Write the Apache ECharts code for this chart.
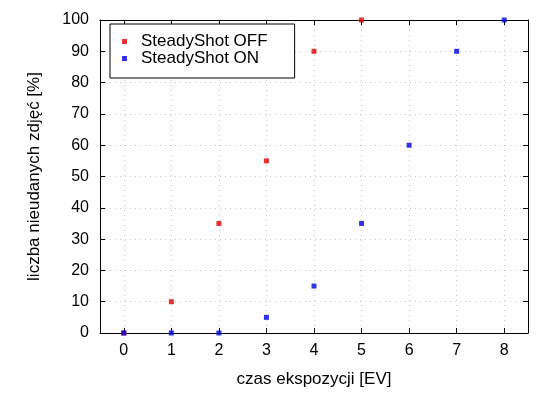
<!DOCTYPE html>
<html>
<head>
<meta charset="utf-8">
<script src="https://cdn.jsdelivr.net/npm/echarts@6/dist/echarts.min.js"></script>
<style>html,body{margin:0;padding:0;background:#fff}#c{width:550px;height:400px}</style>
</head>
<body>
<div id="c"></div>
<script>
var xTicks = [0, 1, 2, 3, 4, 5, 6, 7, 8];
var offX = [0, 1, 2, 3, 4, 5];
var offY = [0, 10, 35, 55, 90, 100];
var onX = [0, 1, 2, 3, 4, 5, 6, 7, 8];
var onY = [0, 0, 0, 5, 15, 35, 60, 90, 100];

var FONT = 'Liberation Sans';
var chart = echarts.init(document.getElementById('c'), null, {renderer: 'canvas'});
function pairs(xs, ys) { return xs.map(function (x, i) { return [x, ys[i]]; }); }
var grid = {color: '#c8c8c8', width: 1, type: [1, 4]};
chart.setOption({
  animation: false,
  backgroundColor: '#fff',
  textStyle: {fontFamily: FONT},
  grid: {left: 100, right: 22, top: 20, bottom: 67},
  legend: {
    left: 110, top: 24, orient: 'vertical',
    backgroundColor: '#fff',
    borderColor: '#000', borderWidth: 1,
    padding: [9, 27, 11, 12],
    itemGap: 0, itemWidth: 5, itemHeight: 5, icon: 'rect',
    textStyle: {fontFamily: FONT, fontSize: 17, lineHeight: 16, color: '#000', padding: [0, 0, 0, 9]},
    data: ['SteadyShot OFF', 'SteadyShot ON']
  },
  xAxis: [{
    type: 'value', min: -0.5, max: 8.5,
    name: 'czas ekspozycji [EV]', nameLocation: 'middle', nameGap: 38,
    nameTextStyle: {fontFamily: FONT, fontSize: 17, color: '#000'},
    axisLine: {onZero: false, lineStyle: {color: '#000', width: 1}},
    axisTick: {inside: true, length: 5, customValues: xTicks, lineStyle: {color: '#000'}},
    axisLabel: {customValues: xTicks, fontFamily: FONT, fontSize: 16, color: '#000', margin: 10},
    splitLine: {show: true, lineStyle: grid}
  }, {
    type: 'value', min: -0.5, max: 8.5, position: 'top',
    axisLine: {onZero: false, lineStyle: {color: '#000', width: 1}},
    axisTick: {inside: true, length: 5, customValues: xTicks, lineStyle: {color: '#000'}},
    axisLabel: {show: false},
    splitLine: {show: false}
  }],
  yAxis: [{
    type: 'value', min: 0, max: 100, interval: 10,
    name: 'liczba nieudanych zdjęć [%]', nameLocation: 'middle', nameGap: 57,
    nameTextStyle: {fontFamily: FONT, fontSize: 17, color: '#000'},
    axisLine: {show: true, onZero: false, lineStyle: {color: '#000', width: 1}},
    axisTick: {show: true, inside: true, length: 5, lineStyle: {color: '#000'}},
    axisLabel: {fontFamily: FONT, fontSize: 16, color: '#000', margin: 11},
    splitLine: {show: true, lineStyle: grid}
  }, {
    type: 'value', min: 0, max: 100, interval: 10, position: 'right',
    axisLine: {show: true, onZero: false, lineStyle: {color: '#000', width: 1}},
    axisTick: {show: true, inside: true, length: 5, lineStyle: {color: '#000'}},
    axisLabel: {show: false},
    splitLine: {show: false}
  }],
  series: [{
    name: 'SteadyShot OFF', type: 'scatter', symbol: 'rect', symbolSize: 5,
    itemStyle: {color: '#e00000'}, data: pairs(offX, offY), z: 3
  }, {
    name: 'SteadyShot ON', type: 'scatter', symbol: 'rect', symbolSize: 5,
    itemStyle: {color: '#0000e0'}, data: pairs(onX, onY), z: 4
  }]
});
</script>
</body>
</html>
